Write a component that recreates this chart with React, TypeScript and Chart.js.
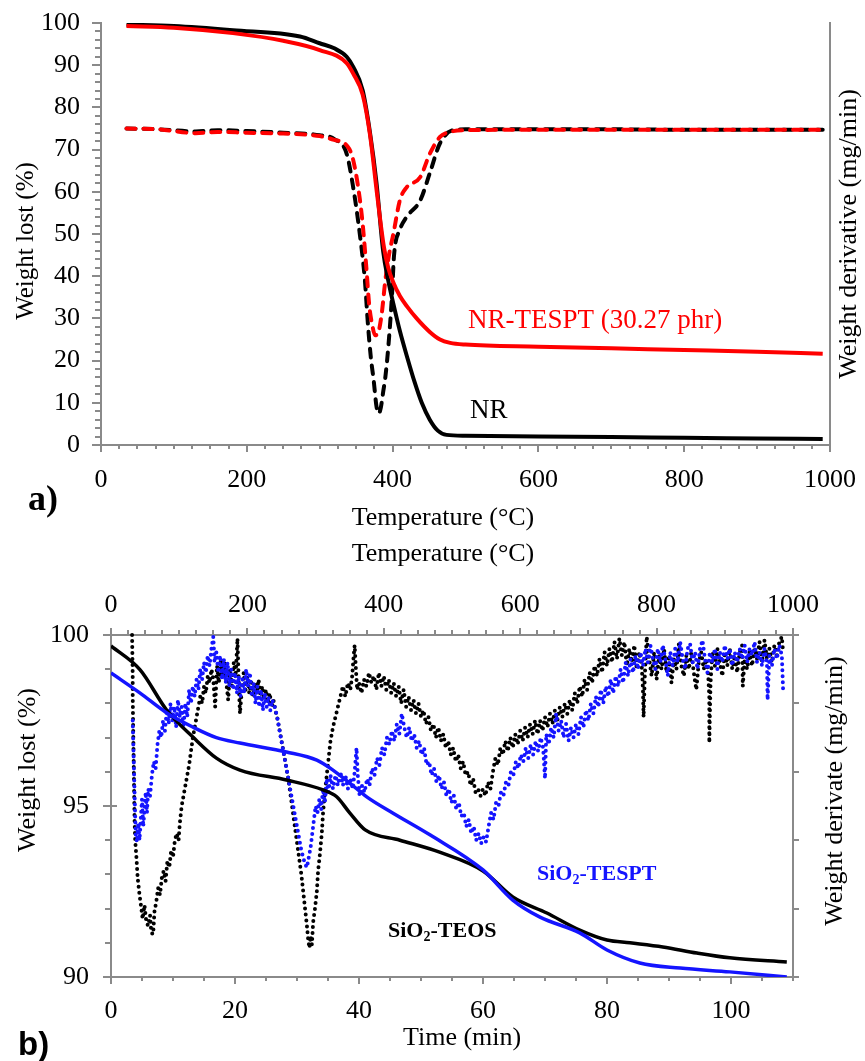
import React, { useEffect, useRef } from 'react';
import { Chart, registerables } from 'chart.js';

Chart.register(...registerables);

// ---------------- Panel a) : TGA / DTG of NR and NR-TESPT ----------------
const tempNR = [35, 100, 181, 273, 300, 320, 337, 346, 359, 369, 378, 387, 394, 401, 410, 420, 430, 440, 451, 462, 474, 500, 600, 700, 800, 900, 990];
const weightNR = [99.6, 99.3, 98.3, 96.8, 95.2, 94.0, 92.0, 89.6, 84.0, 74.0, 62.0, 46.0, 39.0, 33.5, 27.0, 20.8, 15.0, 10.0, 6.0, 3.4, 2.4, 2.2, 2.0, 1.9, 1.7, 1.55, 1.4];

const tempTESPT = [35, 100, 181, 250, 300, 337, 346, 359, 369, 379, 388, 394, 401, 410, 420, 433, 451, 465, 479, 500, 600, 700, 800, 900, 990];
const weightTESPT = [99.3, 98.9, 97.6, 95.8, 93.6, 90.5, 88.0, 83.0, 73.5, 59.0, 47.0, 42.0, 38.5, 35.3, 32.8, 30.0, 26.8, 25.0, 24.2, 23.8, 23.3, 22.9, 22.5, 22.1, 21.6];

const dTempNR = [35, 80, 130, 160, 200, 250, 300, 320, 337, 346, 355, 362, 366, 370, 374, 378, 381, 384, 387, 390, 394, 399, 402, 410, 419, 438, 451, 465, 483, 500, 600, 700, 800, 900, 990];
const derivNR = [75.0, 74.8, 74.3, 74.6, 74.4, 74.0, 73.4, 72.5, 69.0, 61.0, 50.0, 39.0, 29.0, 21.0, 15.4, 9.0, 7.5, 9.0, 12.5, 16.0, 23.0, 35.0, 45.0, 51.0, 54.0, 58.0, 64.4, 71.5, 74.6, 74.8, 74.8, 74.8, 74.7, 74.7, 74.7];

const dTempTESPT = [35, 80, 130, 160, 200, 250, 300, 320, 337, 346, 358, 364, 368, 372, 376, 380, 385, 390, 395, 401, 410, 419, 438, 451, 465, 479, 500, 600, 700, 800, 900, 990];
const derivTESPT = [75.0, 74.8, 73.9, 74.2, 74.0, 73.8, 73.2, 72.3, 71.0, 67.5, 54.0, 42.0, 33.0, 28.5, 26.0, 26.5, 31.0, 39.0, 45.0, 50.0, 58.0, 61.0, 63.5, 69.0, 73.0, 74.2, 74.6, 74.7, 74.7, 74.7, 74.7, 74.7];

// ---------------- Panel b) : TGA / DTG of SiO2-TEOS and SiO2-TESPT ----------------
const timeTEOS = [0, 4.7, 9, 13.3, 17, 20.8, 28.3, 34.2, 36.4, 38.5, 41, 46.6, 53, 60, 64.8, 70.3, 75.6, 80, 83.7, 89, 94.5, 99.8, 109];
const weightTEOS = [99.68, 98.98, 97.8, 97.0, 96.4, 96.05, 95.76, 95.47, 95.27, 94.8, 94.3, 94.0, 93.65, 93.1, 92.34, 91.87, 91.37, 91.08, 91.0, 90.88, 90.7, 90.56, 90.44];

const timeSiTESPT = [0, 4.7, 9, 13.3, 17, 20.8, 28.3, 33.2, 35.8, 38.5, 41.3, 45.5, 51.5, 60, 64.8, 69.2, 75.6, 80, 85.3, 91.8, 99.8, 109];
const weightSiTESPT = [98.89, 98.3, 97.72, 97.3, 97.0, 96.84, 96.58, 96.34, 96.05, 95.67, 95.26, 94.79, 94.15, 93.13, 92.25, 91.75, 91.29, 90.79, 90.41, 90.26, 90.15, 90.0];

// derivative (right axis, arbitrary 0-10 units) read from the dot clouds: [time, value]
const derivTEOS: [number, number][] = [
  [3.4, 10.0], [3.45, 9.4], [3.5, 8.8], [3.5, 8.2], [3.55, 7.6], [3.6, 7.0], [3.65, 6.4], [3.7, 5.8], [3.75, 5.2], [3.8, 4.6], [3.9, 4.0], [4.1, 3.5], [4.3, 2.9], [4.6, 2.4], [4.9, 2.0], [5.1, 1.7], [5.4, 2.1], [5.7, 1.6], [6.0, 1.5], [6.3, 1.8], [6.5, 1.3], [6.8, 1.25], [7.0, 1.9], [7.3, 2.2], [7.6, 2.6], [7.9, 2.4], [8.2, 2.9], [8.5, 3.1], [8.8, 2.8], [9.1, 3.4], [9.4, 3.2], [9.7, 3.7], [10.0, 3.5], [10.3, 4.0], [10.6, 4.2], [10.9, 4.0], [11.1, 4.5], [11.4, 5.0], [11.7, 5.3], [12.0, 5.6], [12.3, 5.9], [12.6, 6.2], [12.9, 6.6], [13.2, 7.0], [13.5, 7.3], [13.8, 7.6], [14.1, 7.9], [14.4, 8.2], [14.7, 8.0], [15.0, 8.5], [15.3, 8.3], [15.6, 8.8], [15.9, 8.6], [16.2, 9.0], [16.5, 8.7], [16.8, 7.9], [17.1, 9.1], [17.4, 8.6], [17.7, 9.3], [18.0, 8.8], [18.3, 9.2], [18.6, 8.6], [18.9, 8.1], [19.2, 9.0], [19.5, 8.5], [19.8, 9.2], [20.1, 8.8], [20.4, 9.9], [20.6, 8.6], [20.8, 7.7], [21.1, 8.4], [21.4, 8.9], [21.7, 8.4], [22.0, 8.8], [22.3, 8.3], [22.6, 8.7], [22.9, 8.2], [23.2, 8.6], [23.5, 8.3], [23.8, 8.7], [24.1, 8.2], [24.4, 8.5], [24.7, 8.1], [25.0, 8.4], [25.3, 8.0], [25.6, 8.3], [25.9, 7.9], [26.2, 8.1], [26.5, 7.8], [26.8, 7.6], [27.1, 7.3], [27.4, 7.0], [27.7, 6.7], [28.0, 6.4], [28.3, 6.1], [28.6, 5.8], [28.9, 5.4], [29.2, 5.0], [29.5, 4.6], [29.8, 4.2], [30.1, 3.8], [30.4, 3.4], [30.7, 3.0], [31.0, 2.5], [31.3, 2.0], [31.6, 1.5], [31.8, 1.1], [32.0, 0.85], [32.2, 1.2], [32.4, 0.95], [32.6, 1.6], [32.9, 2.0], [33.2, 2.5], [33.4, 3.1], [33.7, 3.6], [34.0, 4.2], [34.2, 4.8], [34.5, 5.4], [34.8, 5.9], [35.1, 6.4], [35.4, 6.9], [35.8, 7.3], [36.2, 7.6], [36.6, 7.9], [37.0, 8.2], [37.4, 8.5], [37.8, 8.2], [38.2, 8.6], [38.6, 8.4], [38.9, 8.8], [39.1, 9.3], [39.3, 9.7], [39.5, 9.0], [39.7, 8.4], [40.0, 8.6], [40.4, 8.3], [40.8, 8.7], [41.2, 8.5], [41.6, 8.9], [42.0, 8.6], [42.4, 8.8], [42.8, 8.4], [43.2, 8.9], [43.6, 8.5], [44.0, 8.8], [44.4, 8.4], [44.8, 8.7], [45.2, 8.3], [45.6, 8.6], [46.0, 8.2], [46.4, 8.5], [46.8, 8.0], [47.2, 8.4], [47.6, 7.9], [48.0, 8.2], [48.4, 7.8], [48.8, 8.1], [49.2, 7.7], [49.6, 8.0], [50.0, 7.6], [50.4, 7.8], [50.8, 7.4], [51.2, 7.6], [51.6, 7.2], [52.0, 7.4], [52.4, 7.0], [52.8, 7.3], [53.2, 6.9], [53.6, 7.1], [54.0, 6.7], [54.4, 6.9], [54.8, 6.5], [55.2, 6.7], [55.6, 6.3], [56.0, 6.5], [56.4, 6.1], [56.8, 6.3], [57.2, 5.9], [57.6, 6.0], [58.0, 5.6], [58.4, 5.8], [58.8, 5.4], [59.2, 5.5], [59.6, 5.3], [60.0, 5.5], [60.4, 5.3], [60.8, 5.7], [61.2, 5.5], [61.6, 6.0], [62.0, 6.4], [62.4, 6.2], [62.8, 6.7], [63.2, 6.5], [63.6, 6.9], [64.0, 6.6], [64.4, 7.0], [64.8, 6.7], [65.2, 7.1], [65.6, 6.8], [66.0, 7.2], [66.4, 6.9], [66.8, 7.3], [67.2, 7.0], [67.6, 7.4], [68.0, 7.1], [68.4, 7.5], [68.8, 7.1], [69.2, 7.5], [69.6, 7.2], [70.0, 7.6], [70.4, 7.3], [70.8, 7.7], [71.2, 7.4], [71.6, 7.8], [72.0, 7.5], [72.4, 7.9], [72.8, 7.6], [73.2, 8.0], [73.6, 7.7], [74.0, 8.1], [74.4, 7.8], [74.8, 8.3], [75.2, 8.0], [75.6, 8.5], [76.0, 8.2], [76.4, 8.7], [76.8, 8.4], [77.2, 8.9], [77.6, 8.6], [78.0, 9.1], [78.4, 8.8], [78.8, 9.3], [79.2, 8.9], [79.6, 9.5], [80.0, 9.1], [80.4, 9.6], [80.8, 9.2], [81.2, 9.8], [81.6, 9.3], [82.0, 9.9], [82.4, 9.4], [82.8, 9.8], [83.2, 9.1], [83.6, 9.6], [84.0, 9.2], [84.4, 9.7], [84.8, 9.0], [85.2, 9.5], [85.6, 9.1], [85.8, 8.4], [85.9, 7.6], [86.1, 8.8], [86.4, 9.95], [86.8, 9.3], [87.2, 8.8], [87.6, 9.5], [88.0, 8.7], [88.4, 9.4], [88.8, 9.0], [89.2, 9.6], [89.6, 8.9], [90.0, 9.4], [90.4, 8.6], [90.8, 9.3], [91.2, 9.0], [91.6, 9.75], [92.0, 9.1], [92.4, 8.8], [92.8, 9.4], [93.2, 9.0], [93.6, 9.5], [94.0, 8.9], [94.4, 8.4], [94.8, 9.2], [95.2, 9.5], [95.6, 9.0], [96.0, 9.3], [96.3, 8.9], [96.5, 8.2], [96.5, 7.5], [96.5, 6.85], [96.7, 8.6], [97.0, 9.5], [97.4, 9.1], [97.8, 9.6], [98.2, 9.2], [98.6, 8.8], [99.0, 9.5], [99.4, 9.1], [99.8, 9.6], [100.2, 9.0], [100.6, 9.4], [101.0, 8.9], [101.4, 9.5], [101.8, 9.7], [101.9, 8.5], [102.2, 9.3], [102.6, 9.0], [103.0, 9.5], [103.4, 9.1], [103.8, 9.6], [104.2, 9.3], [104.6, 9.8], [105.0, 9.2], [105.4, 9.85], [105.8, 9.3], [106.2, 9.6], [106.6, 9.2], [107.0, 9.7], [107.4, 9.4], [107.8, 9.8], [108.2, 9.95], [108.4, 9.5]
];

const derivSiTESPT: [number, number][] = [
  [3.5, 7.5], [3.6, 6.8], [3.7, 6.1], [3.8, 5.4], [3.9, 4.7], [4.0, 4.1], [4.2, 3.95], [4.4, 4.5], [4.6, 4.0], [4.8, 4.6], [5.0, 5.2], [5.2, 4.4], [5.4, 4.9], [5.6, 5.4], [5.8, 4.8], [6.0, 5.5], [6.3, 5.3], [6.6, 5.9], [6.9, 6.3], [7.2, 6.1], [7.5, 6.8], [7.8, 7.2], [8.1, 7.0], [8.4, 7.5], [8.7, 7.2], [9.0, 7.8], [9.3, 7.4], [9.6, 8.0], [9.9, 7.5], [10.2, 7.9], [10.5, 7.3], [10.8, 8.1], [11.1, 7.6], [11.4, 7.9], [11.7, 7.3], [12.0, 8.0], [12.3, 7.6], [12.6, 8.4], [12.9, 8.0], [13.2, 8.5], [13.5, 8.2], [13.8, 8.7], [14.1, 8.4], [14.4, 9.0], [14.7, 8.7], [15.0, 9.2], [15.3, 8.9], [15.6, 9.4], [15.9, 9.1], [16.2, 9.6], [16.5, 9.95], [16.7, 9.2], [17.0, 9.5], [17.3, 8.9], [17.6, 9.4], [17.9, 8.7], [18.2, 9.3], [18.5, 8.6], [18.8, 9.2], [19.1, 8.5], [19.4, 9.0], [19.7, 8.4], [20.0, 8.9], [20.3, 8.3], [20.6, 8.8], [20.9, 8.2], [21.2, 8.7], [21.5, 8.3], [21.8, 9.0], [22.1, 8.5], [22.4, 8.9], [22.7, 8.2], [23.0, 8.6], [23.3, 8.0], [23.6, 8.5], [23.9, 7.9], [24.2, 8.4], [24.5, 7.8], [24.8, 8.3], [25.1, 7.9], [25.4, 8.2], [25.7, 7.8], [26.0, 8.1], [26.4, 7.9], [26.8, 7.6], [27.1, 7.3], [27.4, 7.0], [27.7, 6.7], [28.0, 6.4], [28.3, 6.1], [28.6, 5.8], [28.9, 5.5], [29.2, 5.2], [29.5, 4.9], [29.8, 4.6], [30.1, 4.3], [30.4, 4.0], [30.7, 3.7], [31.0, 3.5], [31.3, 3.3], [31.6, 3.2], [31.9, 3.5], [32.2, 3.8], [32.4, 4.1], [32.6, 4.4], [32.8, 4.7], [33.0, 5.0], [33.3, 4.8], [33.6, 5.2], [33.9, 4.9], [34.2, 5.5], [34.5, 5.1], [34.8, 5.8], [35.1, 5.4], [35.4, 5.9], [35.8, 5.5], [36.2, 5.9], [36.6, 5.6], [37.0, 6.0], [37.4, 5.6], [37.8, 5.9], [38.2, 5.5], [38.6, 5.8], [39.0, 5.5], [39.3, 6.0], [39.6, 6.7], [39.8, 5.9], [40.1, 5.3], [40.5, 5.6], [40.9, 5.4], [41.3, 5.8], [41.7, 5.6], [42.1, 6.1], [42.5, 5.9], [42.9, 6.4], [43.3, 6.2], [43.7, 6.7], [44.1, 6.5], [44.5, 7.0], [44.9, 6.8], [45.3, 7.2], [45.7, 6.9], [46.1, 7.4], [46.5, 7.1], [46.9, 7.7], [47.3, 7.3], [47.7, 7.0], [48.1, 7.3], [48.5, 6.9], [48.9, 7.1], [49.3, 6.7], [49.7, 6.9], [50.1, 6.5], [50.5, 6.7], [50.9, 6.2], [51.3, 6.3], [51.7, 5.9], [52.1, 6.1], [52.5, 5.7], [52.9, 5.9], [53.3, 5.5], [53.7, 5.7], [54.1, 5.3], [54.5, 5.5], [54.9, 5.1], [55.3, 5.3], [55.7, 4.9], [56.1, 5.1], [56.5, 4.7], [56.9, 4.8], [57.3, 4.4], [57.7, 4.6], [58.1, 4.2], [58.5, 4.4], [58.9, 4.0], [59.3, 4.2], [59.7, 3.9], [60.1, 4.1], [60.5, 3.95], [60.9, 4.4], [61.3, 4.8], [61.7, 4.6], [62.1, 5.1], [62.5, 5.0], [62.9, 5.4], [63.3, 5.3], [63.7, 5.7], [64.1, 5.6], [64.5, 6.0], [64.9, 5.9], [65.3, 6.3], [65.7, 6.1], [66.1, 6.5], [66.5, 6.3], [66.9, 6.7], [67.3, 6.4], [67.7, 6.8], [68.1, 6.5], [68.5, 6.9], [68.9, 6.6], [69.3, 7.0], [69.7, 6.7], [70.0, 5.8], [70.2, 7.1], [70.6, 6.8], [71.0, 7.3], [71.4, 7.0], [71.8, 7.7], [72.2, 7.2], [72.6, 7.5], [73.0, 7.0], [73.4, 7.4], [73.8, 6.9], [74.2, 7.3], [74.6, 7.0], [75.0, 7.4], [75.4, 7.1], [75.8, 7.6], [76.2, 7.3], [76.6, 7.8], [77.0, 7.5], [77.4, 8.0], [77.8, 7.7], [78.2, 8.2], [78.6, 7.9], [79.0, 8.4], [79.4, 8.0], [79.8, 8.5], [80.2, 8.2], [80.6, 8.7], [81.0, 8.3], [81.4, 8.8], [81.8, 8.5], [82.2, 9.0], [82.6, 8.6], [83.0, 9.2], [83.4, 8.8], [83.8, 9.3], [84.2, 8.9], [84.6, 9.4], [85.0, 9.0], [85.4, 9.5], [85.8, 9.1], [86.2, 9.6], [86.6, 9.2], [87.0, 9.7], [87.4, 9.3], [87.8, 9.0], [88.2, 9.6], [88.6, 9.2], [89.0, 9.7], [89.4, 9.3], [89.8, 8.8], [90.2, 9.5], [90.6, 9.1], [91.0, 9.6], [91.4, 9.2], [91.8, 9.8], [92.2, 9.3], [92.6, 9.0], [93.0, 9.6], [93.4, 9.75], [93.8, 9.2], [94.2, 9.5], [94.6, 9.0], [95.0, 9.6], [95.4, 9.85], [95.8, 9.3], [96.2, 8.9], [96.6, 9.5], [97.0, 9.2], [97.4, 9.6], [97.8, 9.0], [98.2, 9.5], [98.6, 9.2], [99.0, 9.7], [99.4, 9.3], [99.8, 9.6], [100.2, 9.1], [100.6, 9.5], [101.0, 9.2], [101.4, 9.6], [101.8, 9.3], [102.2, 9.7], [102.6, 9.2], [103.0, 9.6], [103.4, 9.4], [103.8, 9.8], [104.2, 9.2], [104.6, 9.5], [105.0, 9.1], [105.4, 9.6], [105.8, 9.2], [105.9, 8.1], [106.2, 9.4], [106.6, 9.1], [107.0, 9.6], [107.4, 9.3], [107.8, 9.7], [108.2, 9.4], [108.4, 8.4]
];

// ---------------- styling ----------------
const SERIF = '"Liberation Serif", "Times New Roman", serif';
const SANS = '"Liberation Sans", Arial, sans-serif';
const GRAY = '#8a8a8a';
const RED = '#ff0000';
const BLUE = '#1414ff';

type TickSpec = { id: string; min: number; max: number; minor: number; major: number; majorLen: number; minorLen: number; dir: 'up' | 'down' | 'left' | 'right'; majorInside?: number };
type TextItem = { text: string; x: number; y: number; size: number; color?: string; bold?: boolean; family?: string; align?: CanvasTextAlign; rotate?: boolean; sub?: [string, string, string] };

function ticksPlugin(specs: TickSpec[]) {
  return {
    id: 'manualTicks',
    afterDatasetsDraw(chart: any) {
      const ctx = chart.ctx as CanvasRenderingContext2D;
      const area = chart.chartArea;
      ctx.save();
      ctx.strokeStyle = GRAY;
      ctx.lineWidth = 2;
      for (const s of specs) {
        const scale = chart.scales[s.id];
        const n = Math.round((s.max - s.min) / s.minor);
        for (let k = 0; k <= n; k++) {
          const v = s.min + k * s.minor;
          const r = v / s.major;
          const isMajor = Math.abs(r - Math.round(r)) < 1e-6;
          const len = isMajor ? s.majorLen : s.minorLen;
          const inside = isMajor ? s.majorInside || 0 : 0;
          const p = Math.round(scale.getPixelForValue(v));
          ctx.beginPath();
          if (s.dir === 'down') { ctx.moveTo(p, area.bottom - inside); ctx.lineTo(p, area.bottom + len); }
          else if (s.dir === 'up') { ctx.moveTo(p, area.top + inside); ctx.lineTo(p, area.top - len); }
          else if (s.dir === 'left') { ctx.moveTo(area.left + inside, p); ctx.lineTo(area.left - len, p); }
          else { ctx.moveTo(area.right - inside, p); ctx.lineTo(area.right + len, p); }
          ctx.stroke();
        }
      }
      ctx.restore();
    },
  };
}

function textPlugin(items: TextItem[]) {
  return {
    id: 'texts',
    afterDraw(chart: any) {
      const ctx = chart.ctx as CanvasRenderingContext2D;
      for (const it of items) {
        ctx.save();
        const fam = it.family || SERIF;
        const font = `${it.bold ? 'bold ' : ''}${it.size}px ${fam}`;
        ctx.font = font;
        ctx.fillStyle = it.color || '#000';
        if (it.rotate) {
          ctx.translate(it.x, it.y);
          ctx.rotate(-Math.PI / 2);
          ctx.textAlign = 'center';
          ctx.textBaseline = 'middle';
          ctx.fillText(it.text, 0, 0);
        } else if (it.sub) {
          ctx.textAlign = 'left';
          ctx.textBaseline = 'alphabetic';
          let x = it.x;
          ctx.fillText(it.sub[0], x, it.y);
          x += ctx.measureText(it.sub[0]).width;
          ctx.font = `${it.bold ? 'bold ' : ''}${Math.round(it.size * 0.65)}px ${fam}`;
          ctx.fillText(it.sub[1], x, it.y + it.size * 0.2);
          x += ctx.measureText(it.sub[1]).width;
          ctx.font = font;
          ctx.fillText(it.sub[2], x, it.y);
        } else {
          ctx.textAlign = it.align || 'left';
          ctx.textBaseline = 'alphabetic';
          ctx.fillText(it.text, it.x, it.y);
        }
        ctx.restore();
      }
    },
  };
}

const pairs = (xs: number[], ys: number[]) => xs.map((x, i) => ({ x, y: ys[i] }));
const fromTuples = (t: [number, number][]) => t.map(([x, y]) => ({ x, y }));

const tickFont = { family: SERIF, size: 26 };
const hiddenGrid = { display: false, drawTicks: false };
const axisBorder = { display: true, color: GRAY, width: 2 };
const plainLabel = (v: number) => String(v);

const fitH = (h: number) => (s: any) => { s.height = h; s.paddingLeft = 0; s.paddingRight = 0; };
const fitW = (w: number) => (s: any) => { s.width = w; s.paddingTop = 0; s.paddingBottom = 0; };

function configA(): any {
  return {
    type: 'line',
    data: {
      datasets: [
        { label: 'NR-TESPT weight', data: pairs(tempTESPT, weightTESPT), borderColor: RED, borderWidth: 4, pointRadius: 0, cubicInterpolationMode: 'monotone', yAxisID: 'y', order: 0 },
        { label: 'NR weight', data: pairs(tempNR, weightNR), borderColor: '#000', borderWidth: 4, pointRadius: 0, cubicInterpolationMode: 'monotone', yAxisID: 'y', order: 1 },
        { label: 'NR-TESPT derivative', data: pairs(dTempTESPT, derivTESPT), borderColor: RED, borderWidth: 4, borderDash: [9, 8], borderCapStyle: 'round', pointRadius: 0, cubicInterpolationMode: 'monotone', yAxisID: 'y2', order: 2 },
        { label: 'NR derivative', data: pairs(dTempNR, derivNR), borderColor: '#000', borderWidth: 4, borderDash: [9, 8], borderCapStyle: 'round', pointRadius: 0, cubicInterpolationMode: 'monotone', yAxisID: 'y2', order: 3 },
      ],
    },
    options: {
      responsive: false,
      animation: false,
      events: [],
      layout: { padding: { top: 23, left: 0, right: 0, bottom: 0 } },
      plugins: { legend: { display: false }, tooltip: { enabled: false } },
      scales: {
        x: {
          type: 'linear', position: 'bottom', min: 0, max: 1000,
          ticks: { stepSize: 200, padding: 20, font: tickFont, color: '#000', maxRotation: 0, autoSkip: false, callback: plainLabel },
          grid: hiddenGrid, border: axisBorder,
          afterFit: fitH(87),
        },
        y: {
          type: 'linear', position: 'left', min: 0, max: 100,
          ticks: { stepSize: 10, padding: 21, font: tickFont, color: '#000', callback: plainLabel },
          grid: hiddenGrid, border: axisBorder,
          afterFit: fitW(101),
        },
        y2: {
          type: 'linear', position: 'right', min: 0, max: 100,
          ticks: { display: false },
          grid: hiddenGrid, border: axisBorder,
          afterFit: fitW(35),
        },
      },
    },
    plugins: [
      ticksPlugin([
        { id: 'x', min: 0, max: 1000, minor: 25, major: 200, majorLen: 7, minorLen: 4, dir: 'down' },
        { id: 'y', min: 0, max: 100, minor: 2, major: 10, majorLen: 9, minorLen: 6, dir: 'left' },
      ]),
      textPlugin([
        { text: 'Weight lost (%)', x: 26, y: 241, size: 25, rotate: true },
        { text: 'Weight derivative (mg/min)', x: 849, y: 234, size: 26, rotate: true },
        { text: 'Temperature (°C)', x: 443, y: 525, size: 26, align: 'center' },
        { text: 'a)', x: 28, y: 510, size: 36, bold: true },
        { text: 'NR-TESPT (30.27 phr)', x: 468, y: 328, size: 27, color: RED },
        { text: 'NR', x: 470, y: 418, size: 27 },
      ]),
    ],
  };
}

function configB(): any {
  return {
    type: 'line',
    data: {
      datasets: [
        { label: 'SiO2-TESPT weight', data: pairs(timeSiTESPT, weightSiTESPT), borderColor: BLUE, borderWidth: 3.5, pointRadius: 0, cubicInterpolationMode: 'monotone', xAxisID: 'x', yAxisID: 'y', order: 0 },
        { label: 'SiO2-TEOS weight', data: pairs(timeTEOS, weightTEOS), borderColor: '#000', borderWidth: 3.5, pointRadius: 0, cubicInterpolationMode: 'monotone', xAxisID: 'x', yAxisID: 'y', order: 1 },
        { label: 'SiO2-TESPT derivative', data: fromTuples(derivSiTESPT), borderColor: BLUE, borderWidth: 4, borderDash: [0, 6], borderCapStyle: 'round', tension: 0, pointRadius: 0, xAxisID: 'x', yAxisID: 'y2', order: 2, clip: false },
        { label: 'SiO2-TEOS derivative', data: fromTuples(derivTEOS), borderColor: '#000', borderWidth: 4, borderDash: [0, 6], borderCapStyle: 'round', tension: 0, pointRadius: 0, xAxisID: 'x', yAxisID: 'y2', order: 3, clip: false },
      ],
    },
    options: {
      responsive: false,
      animation: false,
      events: [],
      layout: { padding: 0 },
      plugins: { legend: { display: false }, tooltip: { enabled: false } },
      scales: {
        x: {
          type: 'linear', position: 'bottom', min: 0, max: 110,
          ticks: { stepSize: 20, includeBounds: false, padding: 19, font: tickFont, color: '#000', maxRotation: 0, autoSkip: false, callback: (v: number) => (v % 20 === 0 ? String(v) : '') },
          grid: hiddenGrid, border: axisBorder,
          afterFit: fitH(84),
        },
        xTop: {
          type: 'linear', position: 'top', min: 0, max: 1000,
          ticks: { stepSize: 200, padding: 14, font: tickFont, color: '#000', maxRotation: 0, autoSkip: false, callback: plainLabel },
          grid: hiddenGrid, border: axisBorder,
          afterFit: fitH(103),
        },
        y: {
          type: 'linear', position: 'left', min: 90, max: 100,
          ticks: { stepSize: 5, padding: 22, font: tickFont, color: '#000', callback: plainLabel },
          grid: hiddenGrid, border: axisBorder,
          afterFit: fitW(111),
        },
        y2: {
          type: 'linear', position: 'right', min: 0, max: 10,
          ticks: { display: false },
          grid: hiddenGrid, border: axisBorder,
          afterFit: fitW(72),
        },
      },
    },
    plugins: [
      ticksPlugin([
        { id: 'xTop', min: 0, max: 1000, minor: 25, major: 200, majorLen: 7, minorLen: 5, dir: 'up' },
        { id: 'x', min: 0, max: 110, minor: 5, major: 20, majorLen: 7, minorLen: 4, dir: 'down' },
        { id: 'y', min: 90, max: 100, minor: 1, major: 5, majorLen: 8, minorLen: 6, dir: 'left', majorInside: 6 },
        { id: 'y2', min: 0, max: 10, minor: 2, major: 2, majorLen: 6, minorLen: 6, dir: 'right' },
      ]),
      textPlugin([
        { text: 'Temperature (°C)', x: 443, y: 29, size: 26, align: 'center' },
        { text: 'Weight lost (%)', x: 28, y: 238, size: 26, rotate: true },
        { text: 'Weight derivate (mg/min)', x: 835, y: 259, size: 26, rotate: true },
        { text: 'Time (min)', x: 403, y: 513, size: 26 },
        { text: '', x: 537, y: 348, size: 22, bold: true, color: BLUE, sub: ['SiO', '2', '-TESPT'] },
        { text: '', x: 388, y: 405, size: 22, bold: true, color: '#000', sub: ['SiO', '2', '-TEOS'] },
        { text: 'b)', x: 18, y: 523, size: 33, bold: true, family: SANS },
      ]),
    ],
  };
}

export default function App() {
  const refA = useRef<HTMLCanvasElement>(null);
  const refB = useRef<HTMLCanvasElement>(null);

  useEffect(() => {
    Chart.defaults.font.family = SERIF;
    const a = new Chart(refA.current as HTMLCanvasElement, configA());
    const b = new Chart(refB.current as HTMLCanvasElement, configB());
    return () => {
      a.destroy();
      b.destroy();
    };
  }, []);

  return (
    <div style={{ position: 'absolute', left: 0, top: 0, width: 865, height: 1061, background: '#fff' }}>
      <canvas ref={refA} width={865} height={532} style={{ position: 'absolute', left: 0, top: 0, width: 865, height: 532 }} />
      <canvas ref={refB} width={865} height={529} style={{ position: 'absolute', left: 0, top: 532, width: 865, height: 529 }} />
    </div>
  );
}
